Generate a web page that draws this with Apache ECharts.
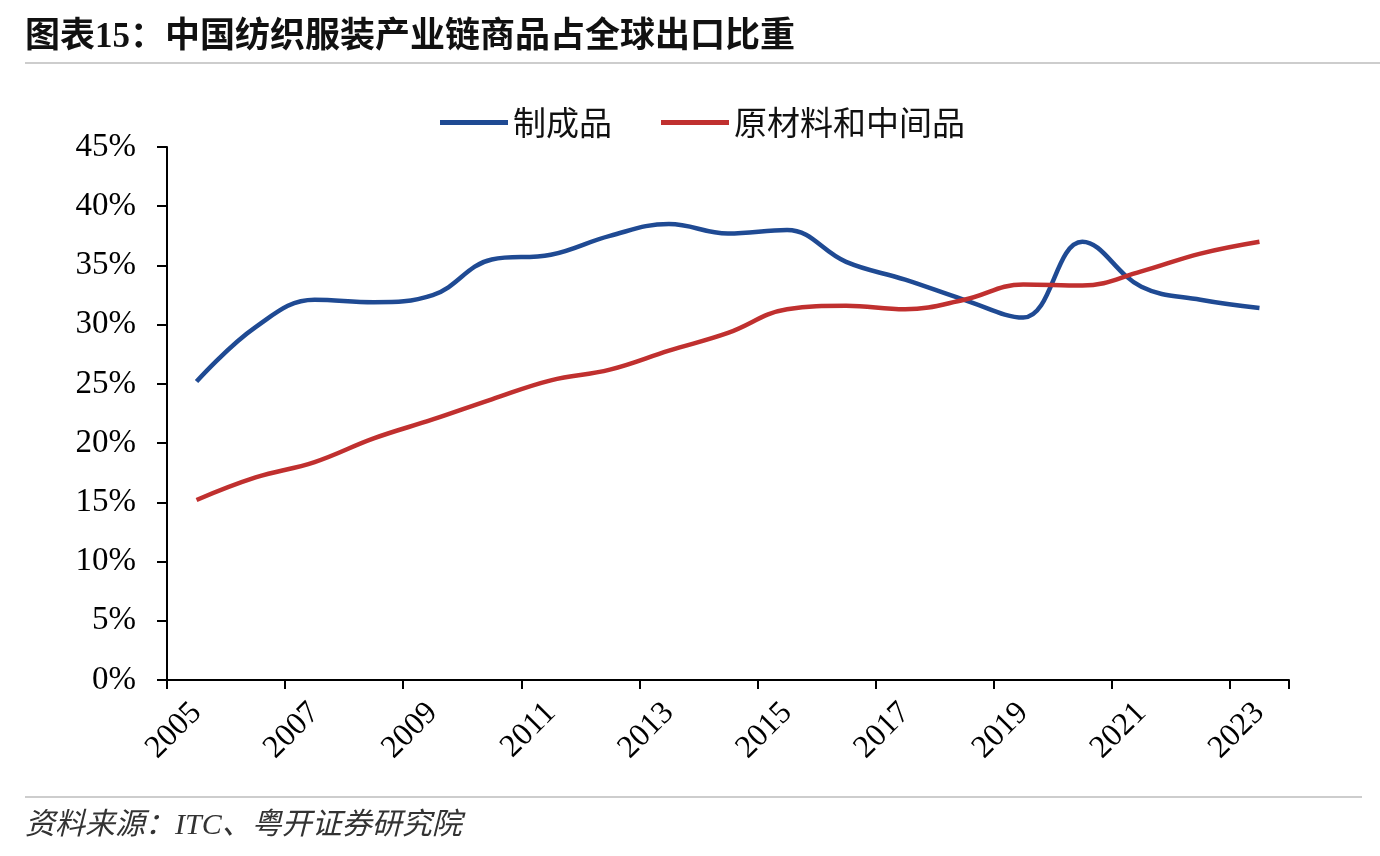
<!DOCTYPE html>
<html>
<head>
<meta charset="utf-8">
<script src="https://cdn.jsdelivr.net/npm/echarts@6/dist/echarts.min.js"></script>
<style>
html,body{margin:0;padding:0;background:#fff;}
#c{width:1380px;height:856px;}
</style>
</head>
<body>
<div id="c"></div>
<script>
const titleText = '图表15：中国纺织服装产业链商品占全球出口比重';
const sourceText = '资料来源：ITC、粤开证券研究院';
const years = ['2005','2006','2007','2008','2009','2010','2011','2012','2013','2014','2015','2016','2017','2018','2019','2020','2021','2022','2023'];
const finishedName = '制成品';
const finished = [25.2, 29.8, 32.1, 31.9, 32.5, 35.5, 35.9, 37.5, 38.5, 37.7, 38.0, 35.3, 33.8, 32.1, 30.6, 37.0, 33.2, 32.1, 31.4];
const rawName = '原材料和中间品';
const raw = [15.2, 17.1, 18.4, 20.4, 22.0, 23.7, 25.3, 26.2, 27.8, 29.3, 31.3, 31.6, 31.3, 32.1, 33.4, 33.3, 34.5, 36.0, 37.0];
const yMin = 0, yMax = 45, yStep = 5;

const chart = echarts.init(document.getElementById('c'), null, {renderer:'canvas'});
const serif = '"Liberation Serif","Times New Roman","Noto Sans CJK SC",serif';
const cjk = '"Noto Sans CJK SC","Liberation Serif",sans-serif';
chart.setOption({
  animation:false,
  backgroundColor:'#fff',
  graphic:[
    {type:'text', left:25, top:20, style:{text:titleText, font:'bold 35px "Liberation Serif","Noto Sans CJK SC",serif', fill:'#111'}},
    {type:'line', shape:{x1:25,y1:63,x2:1380,y2:63}, style:{stroke:'#bdbdbd', lineWidth:1.5}},
    {type:'line', shape:{x1:25,y1:797,x2:1362,y2:797}, style:{stroke:'#bdbdbd', lineWidth:1.5}},
    {type:'text', left:25, top:811, style:{text:sourceText, font:'italic 30px "Liberation Serif","Noto Sans CJK SC",serif', fill:'#333'}}
  ],
  legend:{
    left:435, top:101,
    icon:'rect', itemWidth:68, itemHeight:5, itemGap:49,
    textStyle:{fontFamily:cjk, fontSize:33, color:'#111'},
    data:[finishedName, rawName]
  },
  grid:{left:167, right:91, top:147, bottom:176, containLabel:false},
  xAxis:{
    type:'category', data:years, boundaryGap:true,
    axisLine:{lineStyle:{color:'#000', width:2}},
    axisTick:{show:true, interval:function(i){ return i % 2 === 0 && i < years.length; }, length:9, lineStyle:{color:'#000', width:2}},
    axisLabel:{interval:1, rotate:45, margin:28, fontFamily:serif, fontSize:32, color:'#000'},
    splitLine:{show:false}
  },
  yAxis:{
    type:'value', min:yMin, max:yMax, interval:yStep,
    axisLine:{show:true, lineStyle:{color:'#000', width:2}},
    axisTick:{show:true, length:10, lineStyle:{color:'#000', width:2}},
    axisLabel:{formatter:'{value}%', margin:31, fontFamily:serif, fontSize:33, color:'#000'},
    splitLine:{show:false}
  },
  series:[
    {name:finishedName, type:'line', data:finished, smooth:0.4, showSymbol:false,
     lineStyle:{color:'#1F4A93', width:4.5}, itemStyle:{color:'#1F4A93'}},
    {name:rawName, type:'line', data:raw, smooth:0.4, showSymbol:false,
     lineStyle:{color:'#C0302F', width:4.5}, itemStyle:{color:'#C0302F'}}
  ]
});
</script>
</body>
</html>
